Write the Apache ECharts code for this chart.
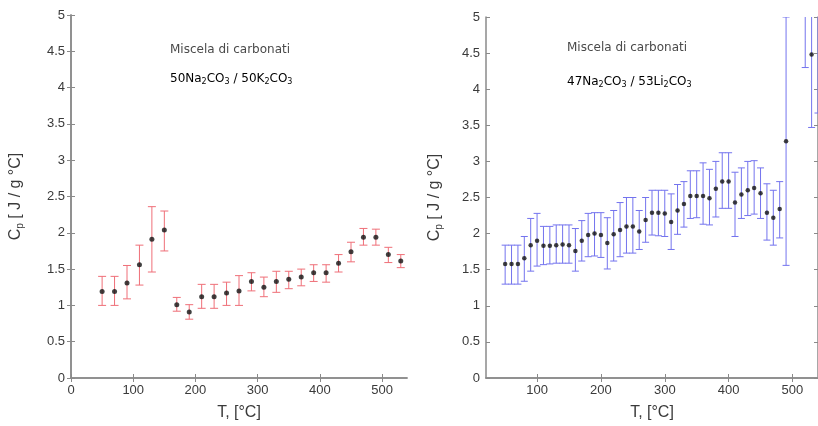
<!DOCTYPE html>
<html>
<head>
<meta charset="utf-8">
<script src="https://cdn.jsdelivr.net/npm/echarts@6/dist/echarts.min.js"></script>
<style>html,body{margin:0;padding:0;background:#fff}#c{width:818px;height:426px}</style>
</head>
<body>
<div id="c"></div>
<script>
// ---- Data: left panel (50Na2CO3 / 50K2CO3) ----
var tempA = [50,70,90,110,130,150,170,190,210,230,250,270,290,310,330,350,370,390,410,430,450,470,490,510,530];
var cpA   = [1.19,1.19,1.31,1.56,1.91,2.04,1.01,0.91,1.12,1.12,1.17,1.20,1.33,1.25,1.33,1.36,1.39,1.45,1.45,1.58,1.74,1.94,1.94,1.70,1.61];
var lowA  = [1.00,1.00,1.09,1.28,1.46,1.75,0.92,0.81,0.96,0.96,1.00,1.00,1.20,1.12,1.18,1.23,1.27,1.33,1.32,1.46,1.60,1.83,1.83,1.59,1.52];
var highA = [1.40,1.40,1.55,1.83,2.36,2.30,1.11,1.01,1.29,1.29,1.32,1.41,1.45,1.39,1.47,1.47,1.50,1.56,1.56,1.70,1.87,2.06,2.05,1.80,1.70];

// ---- Data: right panel (47Na2CO3 / 53Li2CO3) ----
var tempB = [50,60,70,80,90,100,110,120,130,140,150,160,170,180,190,200,210,220,230,240,250,260,270,280,290,300,310,320,330,340,350,360,370,380,390,400,410,420,430,440,450,460,470,480,490,520,530,540];
var cpB   = [1.58,1.58,1.58,1.66,1.84,1.90,1.83,1.83,1.84,1.85,1.84,1.76,1.90,1.98,2.00,1.98,1.87,1.99,2.05,2.10,2.10,2.03,2.19,2.29,2.29,2.28,2.16,2.32,2.41,2.52,2.52,2.52,2.49,2.62,2.72,2.72,2.43,2.54,2.60,2.63,2.56,2.29,2.22,2.34,3.28,5.60,4.48,5.20];
var lowB  = [1.30,1.30,1.30,1.34,1.48,1.55,1.57,1.58,1.59,1.59,1.59,1.48,1.62,1.68,1.69,1.67,1.51,1.62,1.68,1.73,1.73,1.78,1.88,1.98,1.97,1.96,1.78,1.99,2.09,2.21,2.22,2.13,2.12,2.23,2.35,2.35,1.96,2.21,2.25,2.27,2.21,1.91,1.84,1.94,1.56,4.30,3.47,3.67];
var highB = [1.84,1.84,1.84,1.96,2.21,2.28,2.10,2.10,2.12,2.12,2.12,2.07,2.18,2.28,2.29,2.29,2.22,2.32,2.43,2.50,2.50,2.32,2.50,2.60,2.60,2.60,2.55,2.68,2.72,2.87,2.87,2.98,2.89,3.00,3.12,3.12,2.85,2.91,3.00,3.01,2.91,2.69,2.60,2.72,5.00,6.90,5.50,6.70];

var yTicks = [0,0.5,1,1.5,2,2.5,3,3.5,4,4.5,5];
var xTicksA = [0,100,200,300,400,500];
var xTicksB = [100,200,300,400,500];

function build(t, lo, hi) { return t.map(function(v,i){ return [v, lo[i], hi[i]]; }); }
function pts(t, c) { return t.map(function(v,i){ return [v, c[i]]; }); }

function errRender(color, cap) {
  return function(params, api) {
    var x = api.value(0), lo = api.value(1), hi = api.value(2);
    var pLo = api.coord([x, lo]), pHi = api.coord([x, hi]);
    var st = { stroke: color, lineWidth: 1 };
    return { type: 'group', children: [
      { type: 'line', shape: { x1: pLo[0], y1: pLo[1], x2: pHi[0], y2: pHi[1] }, style: st },
      { type: 'line', shape: { x1: pLo[0]-cap, y1: pLo[1], x2: pLo[0]+cap, y2: pLo[1] }, style: st },
      { type: 'line', shape: { x1: pHi[0]-cap, y1: pHi[1], x2: pHi[0]+cap, y2: pHi[1] }, style: st }
    ]};
  };
}

var txt = '#3a3a3a';
var axLine = { lineStyle: { color: '#8a8a8a', width: 1.5 } };
var font = 'Liberation Sans, Arial, sans-serif';
var afont = 'DejaVu Sans, sans-serif';
var rich = {
  n: { fontSize: 16, color: txt, fontFamily: font, lineHeight: 18 },
  s: { fontSize: 10, color: txt, fontFamily: font, lineHeight: 12, padding: [9,0,0,0] }
};
var richAnn = {
  n: { fontSize: 12, color: '#4a4a4a', fontFamily: afont, lineHeight: 14 },
  s: { fontSize: 8, color: '#4a4a4a', fontFamily: afont, lineHeight: 10, padding: [7,0,0,0] }
};

function xBottom(gi, min, max, ticks) {
  return { type: 'value', gridIndex: gi, position: 'bottom', min: min, max: max,
    name: 'T, [°C]', nameLocation: 'middle', nameGap: 27,
    nameTextStyle: { fontSize: 16, color: txt, fontFamily: font },
    axisLine: axLine, splitLine: { show: false },
    axisTick: { inside: true, length: 4, customValues: ticks, lineStyle: { color: '#8a8a8a' } },
    axisLabel: { customValues: ticks, fontSize: 13, color: txt, fontFamily: font, margin: 6 } };
}
function xTop(gi, min, max, ticks) {
  return { type: 'value', gridIndex: gi, position: 'top', min: min, max: max,
    axisLine: axLine, splitLine: { show: false },
    axisTick: { inside: true, length: 4, customValues: ticks, lineStyle: { color: '#8a8a8a' } },
    axisLabel: { show: false } };
}
function yLeft(gi, gap) {
  return { type: 'value', gridIndex: gi, position: 'left', min: 0, max: 5,
    name: '{n|C}{s|p}{n| [ J / g °C]}', nameLocation: 'middle', nameGap: gap, nameRotate: 90,
    nameTextStyle: { rich: rich },
    axisLine: axLine, splitLine: { show: false },
    axisTick: { inside: true, length: 4, customValues: yTicks, lineStyle: { color: '#8a8a8a' } },
    axisLabel: { customValues: yTicks, fontSize: 13, color: txt, fontFamily: font, margin: 6 } };
}
function yRight(gi) {
  return { type: 'value', gridIndex: gi, position: 'right', min: 0, max: 5,
    axisLine: axLine, splitLine: { show: false },
    axisTick: { inside: true, length: 4, customValues: yTicks, lineStyle: { color: '#8a8a8a' } },
    axisLabel: { show: false } };
}

var option = {
  animation: false,
  backgroundColor: '#ffffff',
  grid: [
    { left: 71, top: 15, width: 336, height: 368 },
    { left: 486, top: 17, width: 333, height: 366 }
  ],
  xAxis: [ xBottom(0, 0, 540, xTicksA), xTop(0, 0, 540, xTicksA), xBottom(1, 20, 540, xTicksB), xTop(1, 20, 540, xTicksB) ],
  yAxis: [ yLeft(0, 46), yRight(0), yLeft(1, 42), yRight(1) ],
  graphic: [
    { type: 'text', left: 170, top: 44, style: { text: 'Miscela di carbonati', font: '12px ' + afont, fill: '#4a4a4a' } },
    { type: 'text', left: 170, top: 71, style: { text: '{n|50Na}{s|2}{n|CO}{s|3}{n| / 50K}{s|2}{n|CO}{s|3}', rich: richAnn } },
    { type: 'text', left: 567, top: 42, style: { text: 'Miscela di carbonati', font: '12px ' + afont, fill: '#4a4a4a' } },
    { type: 'text', left: 567, top: 74, style: { text: '{n|47Na}{s|2}{n|CO}{s|3}{n| / 53Li}{s|2}{n|CO}{s|3}', rich: richAnn } }
  ],
  series: [
    { type: 'custom', xAxisIndex: 0, yAxisIndex: 0, clip: true, renderItem: errRender('#ef6f78', 4),
      encode: { x: 0, y: [1, 2] }, data: build(tempA, lowA, highA), z: 2 },
    { type: 'scatter', xAxisIndex: 0, yAxisIndex: 0, symbol: 'circle', symbolSize: 5,
      itemStyle: { color: '#111' }, data: pts(tempA, cpA), z: 3 },
    { type: 'custom', xAxisIndex: 2, yAxisIndex: 2, clip: true, renderItem: errRender('#7373ee', 3.5),
      encode: { x: 0, y: [1, 2] }, data: build(tempB, lowB, highB), z: 2 },
    { type: 'scatter', xAxisIndex: 2, yAxisIndex: 2, symbol: 'circle', symbolSize: 4.5, clip: true,
      itemStyle: { color: '#111' }, data: pts(tempB, cpB), z: 3 }
  ]
};
echarts.init(document.getElementById('c')).setOption(option);
</script>
</body>
</html>
